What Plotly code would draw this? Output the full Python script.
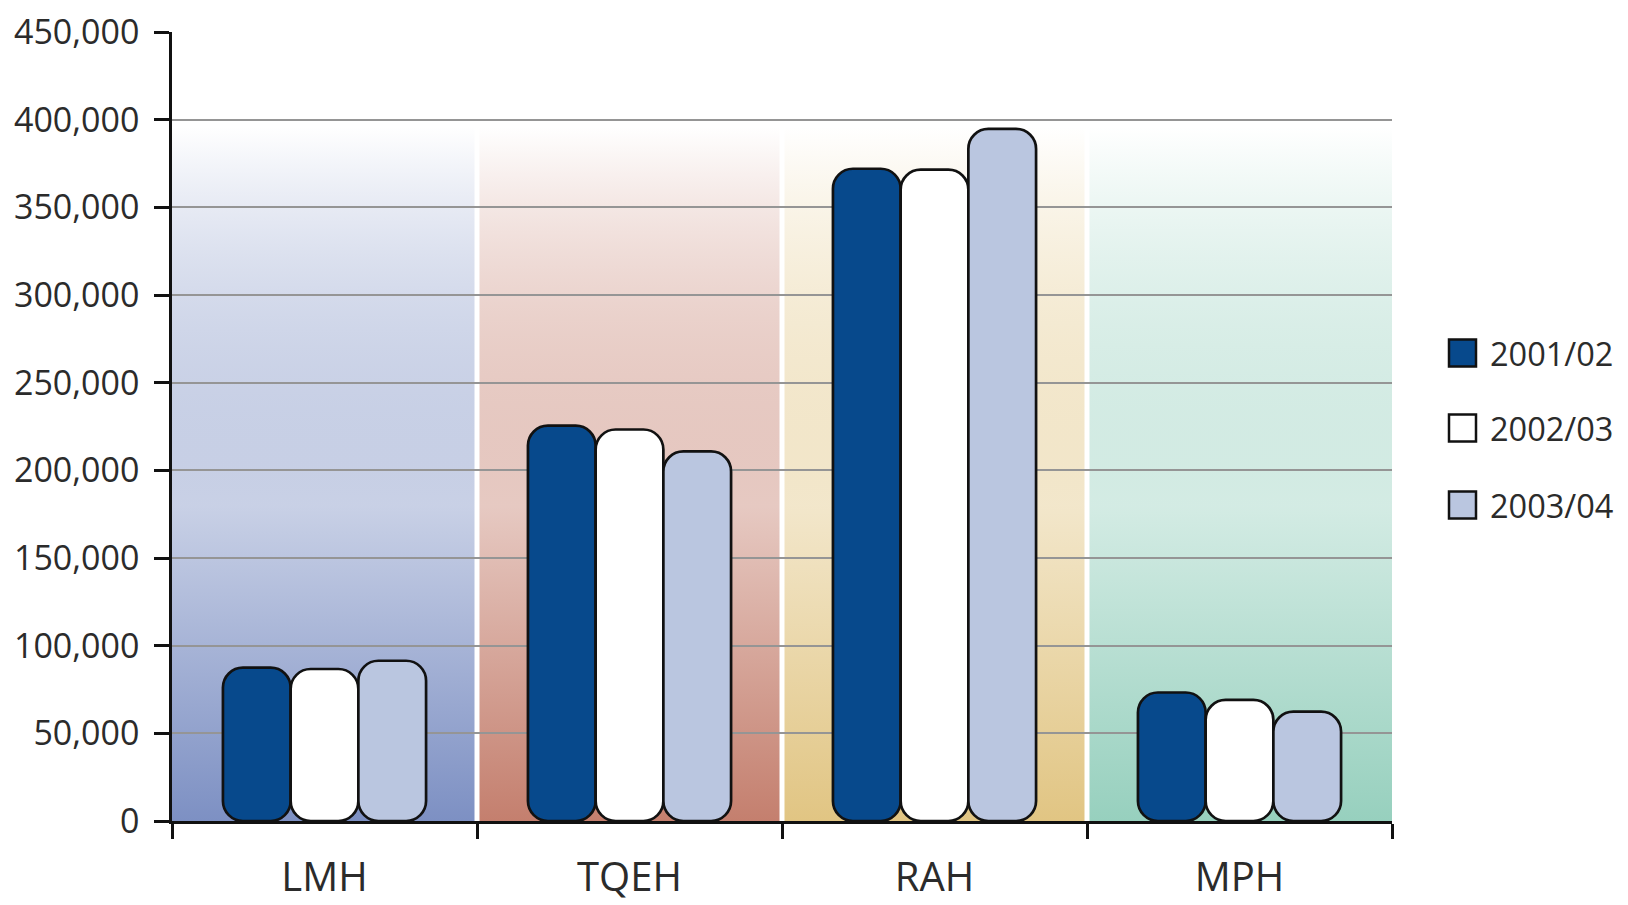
import base64
import plotly.graph_objects as go

# ---- data -------------------------------------------------------------
hospitals = ["LMH", "TQEH", "RAH", "MPH"]
years = ["2001/02", "2002/03", "2003/04"]
vals_2001 = [87500, 225500, 372000, 73300]
vals_2002 = [86700, 223300, 371500, 69100]
vals_2003 = [91400, 210800, 394700, 62400]
series = [vals_2001, vals_2002, vals_2003]

y_ticks = [0, 50000, 100000, 150000, 200000, 250000, 300000, 350000, 400000, 450000]

# ---- style ------------------------------------------------------------
bar_fill = ["#07498c", "#ffffff", "#bac6e0"]
outline = "#111111"
band_colors = ["#7d90c3", "#c47f6e", "#e1c583", "#97d0be"]
text_col = "#2b2b2b"
FONT = "Open Sans"

W, H = 1628, 905
L, R, T, B = 172, 236, 32, 84
PW, PH = W - L - R, H - T - B

BAR_W = 0.222
OFFSETS = [-0.333, -0.111, 0.111]
RADIUS = 20
LINE_W = 2.7


def band_svg():
    """Vertical gradient panels behind each hospital group."""
    n = len(band_colors)
    cw = PW / n
    defs, rects = [], []
    for i, c in enumerate(band_colors):
        defs.append(
            f'<linearGradient id="g{i}" x1="0" y1="0" x2="0" y2="1">'
            f'<stop offset="0" stop-color="#ffffff"/>'
            f'<stop offset="0.12" stop-color="#ffffff"/>'
            f'<stop offset="0.6" stop-color="{c}" stop-opacity="0.42"/>'
            f'<stop offset="1" stop-color="{c}"/></linearGradient>'
        )
        x0 = i * cw + (2.5 if i > 0 else 0)
        x1 = (i + 1) * cw - (2.5 if i < n - 1 else 0)
        rects.append(
            f'<rect x="{x0:.1f}" y="0" width="{x1 - x0:.1f}" height="{PH}" fill="url(#g{i})"/>'
        )
    svg = (
        f'<svg xmlns="http://www.w3.org/2000/svg" width="{PW}" height="{PH}" '
        f'viewBox="0 0 {PW} {PH}" preserveAspectRatio="none">'
        f'<rect width="{PW}" height="{PH}" fill="#ffffff"/>'
        f'<defs>{"".join(defs)}</defs>{"".join(rects)}</svg>'
    )
    return "data:image/svg+xml;base64," + base64.b64encode(svg.encode()).decode()


fig = go.Figure()

# bars with an explicit base are rounded at both ends
for vals, fill, off, name in zip(series, bar_fill, OFFSETS, years):
    fig.add_trace(go.Bar(
        name=name, x=hospitals, y=vals, base=[0] * len(vals),
        width=BAR_W, offset=off,
        marker=dict(color=fill, line=dict(color=outline, width=LINE_W), cornerradius=RADIUS),
        hoverinfo="skip", showlegend=False,
    ))

# background panels
fig.add_layout_image(dict(source=band_svg(), xref="paper", yref="paper", x=0, y=1,
                          sizex=1, sizey=1, xanchor="left", yanchor="top",
                          sizing="stretch", layer="below"))


# legend drawn as boxes + labels
def px_x(px):
    return (px - L) / PW


def px_y(py):
    return (H - B - py) / PH


leg_y = [353, 428, 505]
for name, fill, cy in zip(years, bar_fill, leg_y):
    fig.add_shape(type="rect", xref="paper", yref="paper",
                  x0=px_x(1449), x1=px_x(1476), y0=px_y(cy + 13.5), y1=px_y(cy - 13.5),
                  fillcolor=fill, line=dict(color=outline, width=2.5))
    fig.add_annotation(text=name, xref="paper", yref="paper", x=px_x(1488), y=px_y(cy),
                       xanchor="left", yanchor="middle", showarrow=False,
                       font=dict(family=FONT, size=32.5, color=text_col))

fig.update_layout(
    width=W, height=H,
    margin=dict(l=L, r=R, t=T, b=B, pad=0, autoexpand=False),
    barmode="overlay",
    paper_bgcolor="#ffffff",
    plot_bgcolor="#ffffff",
    font=dict(family=FONT, color=text_col),
    showlegend=False,
)

fig.update_xaxes(
    type="category", categoryorder="array", categoryarray=hospitals,
    range=[-0.5, len(hospitals) - 0.5],
    automargin=False,
    showgrid=False, zeroline=False,
    showline=True, linecolor=outline, linewidth=2.5,
    ticks="outside", tickson="boundaries", ticklen=15, tickwidth=2.5, tickcolor=outline,
    tickfont=dict(family=FONT, size=40, color=text_col),
    ticklabelstandoff=19,
)

fig.update_yaxes(
    range=[0, 450000], tickvals=y_ticks, tickformat=",",
    automargin=False,
    showgrid=True, gridcolor="#959595", gridwidth=2,
    zeroline=False,
    showline=True, linecolor=outline, linewidth=2.5,
    ticks="outside", ticklen=15, tickwidth=2.5, tickcolor=outline,
    tickfont=dict(family=FONT, size=34, color=text_col),
    ticklabelstandoff=8,
)

fig.write_html("out.html")
